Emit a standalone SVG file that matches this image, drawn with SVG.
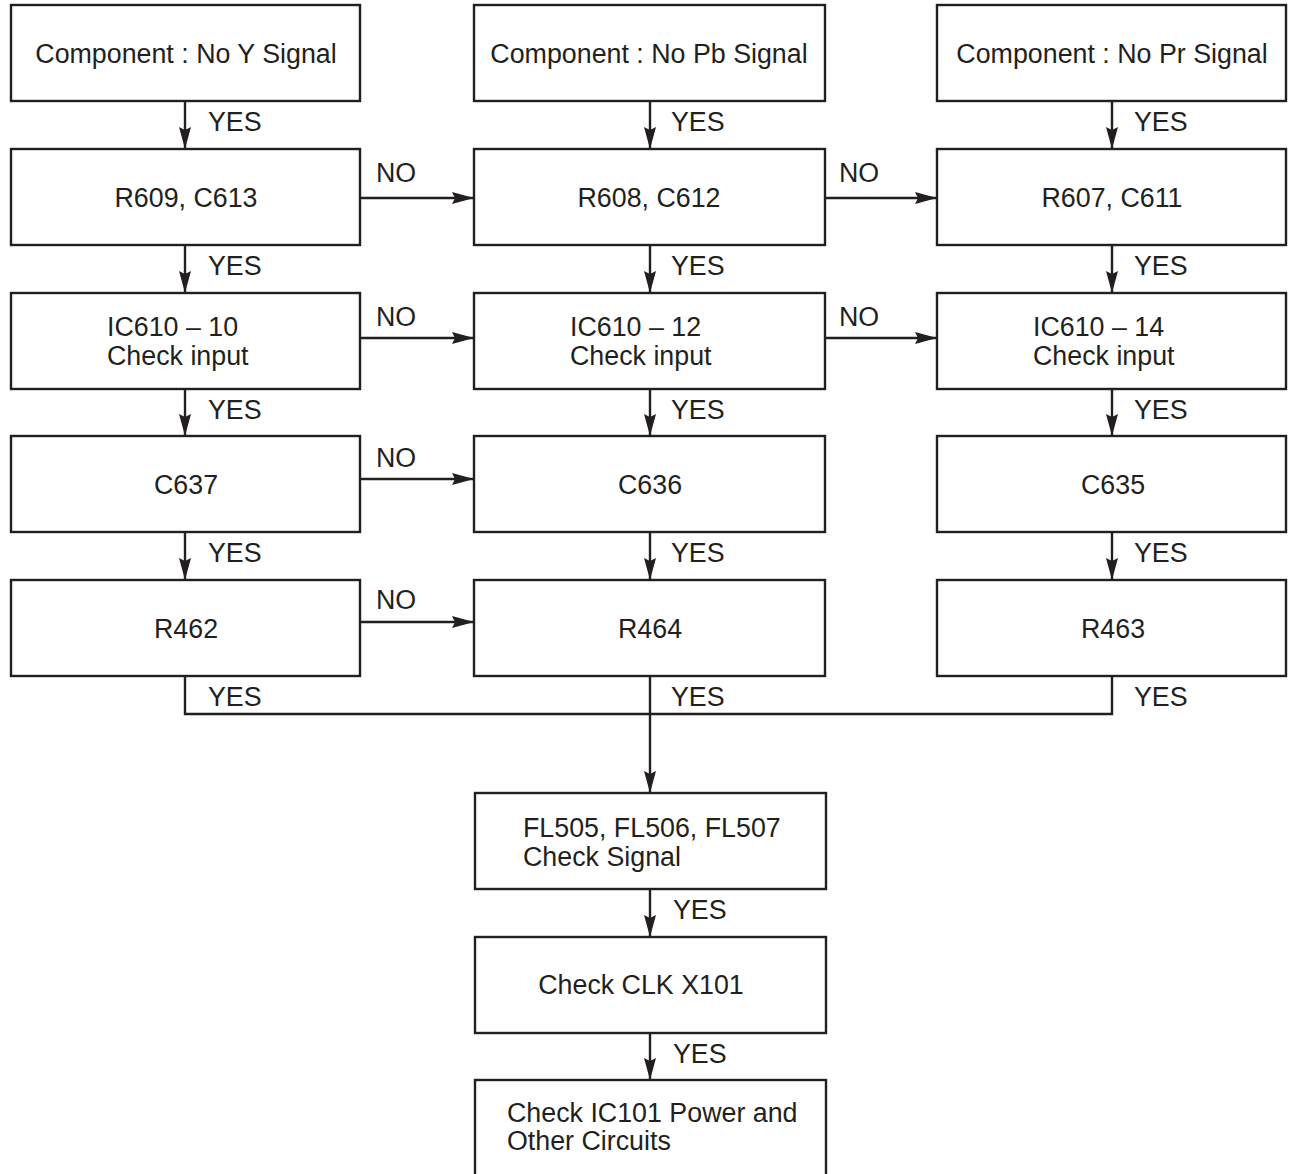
<svg xmlns="http://www.w3.org/2000/svg" width="1289" height="1174" viewBox="0 0 1289 1174">
<style>
.box{fill:#fff;stroke:#231f20;stroke-width:2.4}
.t{font-family:"Liberation Sans",Arial,sans-serif;font-size:26.8px;fill:#231f20}
.c{text-anchor:middle}
.ln{fill:none;stroke:#231f20;stroke-width:2.4}
</style>
<defs>
<marker id="ah" markerUnits="userSpaceOnUse" markerWidth="24" markerHeight="14" refX="22" refY="7" orient="auto">
<path d="M0,1 L22,7 L0,13 L3,7 z" fill="#231f20"/>
</marker>
</defs>
<rect width="1289" height="1174" fill="#fff"/>
<g id="connectors">
<line class="ln" x1="185" y1="101" x2="185" y2="149" marker-end="url(#ah)"/>
<line class="ln" x1="650" y1="101" x2="650" y2="149" marker-end="url(#ah)"/>
<line class="ln" x1="1112" y1="101" x2="1112" y2="149" marker-end="url(#ah)"/>
<line class="ln" x1="185" y1="245" x2="185" y2="293" marker-end="url(#ah)"/>
<line class="ln" x1="650" y1="245" x2="650" y2="293" marker-end="url(#ah)"/>
<line class="ln" x1="1112" y1="245" x2="1112" y2="293" marker-end="url(#ah)"/>
<line class="ln" x1="185" y1="389" x2="185" y2="436" marker-end="url(#ah)"/>
<line class="ln" x1="650" y1="389" x2="650" y2="436" marker-end="url(#ah)"/>
<line class="ln" x1="1112" y1="389" x2="1112" y2="436" marker-end="url(#ah)"/>
<line class="ln" x1="185" y1="532" x2="185" y2="580" marker-end="url(#ah)"/>
<line class="ln" x1="650" y1="532" x2="650" y2="580" marker-end="url(#ah)"/>
<line class="ln" x1="1112" y1="532" x2="1112" y2="580" marker-end="url(#ah)"/>
<line class="ln" x1="361" y1="198" x2="474" y2="198" marker-end="url(#ah)"/>
<line class="ln" x1="825" y1="198" x2="937" y2="198" marker-end="url(#ah)"/>
<line class="ln" x1="361" y1="338" x2="474" y2="338" marker-end="url(#ah)"/>
<line class="ln" x1="825" y1="338" x2="937" y2="338" marker-end="url(#ah)"/>
<line class="ln" x1="361" y1="479" x2="474" y2="479" marker-end="url(#ah)"/>
<line class="ln" x1="361" y1="622" x2="474" y2="622" marker-end="url(#ah)"/>
<polyline class="ln" points="185,676 185,714 1112,714 1112,676"/>
<line class="ln" x1="650" y1="676" x2="650" y2="793" marker-end="url(#ah)"/>
<line class="ln" x1="650" y1="889" x2="650" y2="937" marker-end="url(#ah)"/>
<line class="ln" x1="650" y1="1033" x2="650" y2="1080" marker-end="url(#ah)"/>
<g class="t">
<text x="208" y="131">YES</text><text x="671" y="131">YES</text><text x="1134" y="131">YES</text>
<text x="208" y="275">YES</text><text x="671" y="275">YES</text><text x="1134" y="275">YES</text>
<text x="208" y="419">YES</text><text x="671" y="419">YES</text><text x="1134" y="419">YES</text>
<text x="208" y="562">YES</text><text x="671" y="562">YES</text><text x="1134" y="562">YES</text>
<text x="208" y="706">YES</text><text x="671" y="706">YES</text><text x="1134" y="706">YES</text>
<text x="673" y="919">YES</text><text x="673" y="1063">YES</text>
<text x="376" y="182">NO</text><text x="839" y="182">NO</text>
<text x="376" y="326">NO</text><text x="839" y="326">NO</text>
<text x="376" y="467">NO</text><text x="376" y="609">NO</text>
</g>
</g>
<g id="n1"><rect class="box" x="11" y="5" width="349" height="96"/><text class="t c" x="186" y="63">Component : No Y Signal</text></g>
<g id="n2"><rect class="box" x="474" y="5" width="351" height="96"/><text class="t c" x="649" y="63">Component : No Pb Signal</text></g>
<g id="n3"><rect class="box" x="937" y="5" width="349" height="96"/><text class="t c" x="1112" y="63">Component : No Pr Signal</text></g>
<g id="n4"><rect class="box" x="11" y="149" width="349" height="96"/><text class="t c" x="186" y="207">R609, C613</text></g>
<g id="n5"><rect class="box" x="474" y="149" width="351" height="96"/><text class="t c" x="649" y="207">R608, C612</text></g>
<g id="n6"><rect class="box" x="937" y="149" width="349" height="96"/><text class="t c" x="1112" y="207">R607, C611</text></g>
<g id="n7"><rect class="box" x="11" y="293" width="349" height="96"/><text class="t" x="107" y="336">IC610 – 10</text><text class="t" x="107" y="365">Check input</text></g>
<g id="n8"><rect class="box" x="474" y="293" width="351" height="96"/><text class="t" x="570" y="336">IC610 – 12</text><text class="t" x="570" y="365">Check input</text></g>
<g id="n9"><rect class="box" x="937" y="293" width="349" height="96"/><text class="t" x="1033" y="336">IC610 – 14</text><text class="t" x="1033" y="365">Check input</text></g>
<g id="n10"><rect class="box" x="11" y="436" width="349" height="96"/><text class="t c" x="186" y="494">C637</text></g>
<g id="n11"><rect class="box" x="474" y="436" width="351" height="96"/><text class="t c" x="650" y="494">C636</text></g>
<g id="n12"><rect class="box" x="937" y="436" width="349" height="96"/><text class="t c" x="1113" y="494">C635</text></g>
<g id="n13"><rect class="box" x="11" y="580" width="349" height="96"/><text class="t c" x="186" y="638">R462</text></g>
<g id="n14"><rect class="box" x="474" y="580" width="351" height="96"/><text class="t c" x="650" y="638">R464</text></g>
<g id="n15"><rect class="box" x="937" y="580" width="349" height="96"/><text class="t c" x="1113" y="638">R463</text></g>
<g id="n16"><rect class="box" x="475" y="793" width="351" height="96"/><text class="t" x="523" y="837">FL505, FL506, FL507</text><text class="t" x="523" y="866">Check Signal</text></g>
<g id="n17"><rect class="box" x="475" y="937" width="351" height="96"/><text class="t c" x="641" y="994">Check CLK X101</text></g>
<g id="n18"><rect class="box" x="475" y="1080" width="351" height="110"/><text class="t" x="507" y="1122">Check IC101 Power and</text><text class="t" x="507" y="1150">Other Circuits</text></g>
</svg>
